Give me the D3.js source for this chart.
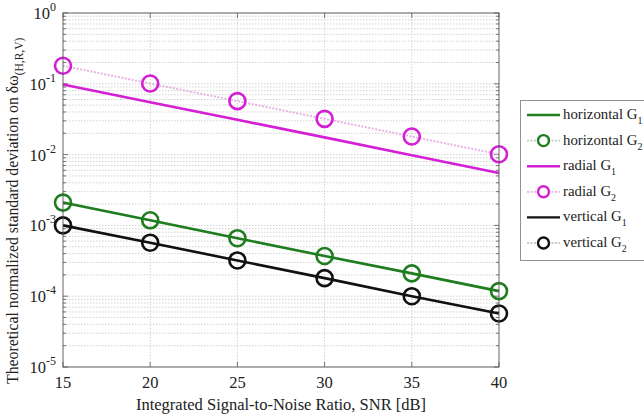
<!DOCTYPE html>
<html><head><meta charset="utf-8">
<script src="https://cdn.jsdelivr.net/npm/d3@7"></script>
<style>body{margin:0;background:#fff}svg{display:block;font-family:"Liberation Serif","Times New Roman",serif}</style>
</head><body><svg id="c" width="644" height="418"></svg>
<script>
const snr = [15, 20, 25, 30, 35, 40];
const horizontalG1 = [0.0021, 0.00118, 0.00066, 0.00037, 0.00021, 0.000118];
const horizontalG2 = [0.0021, 0.00118, 0.00066, 0.00037, 0.00021, 0.000118];
const radialG1 = [0.098, 0.055, 0.031, 0.0175, 0.0098, 0.0055];
const radialG2 = [0.18, 0.101, 0.057, 0.032, 0.018, 0.0101];
const verticalG1 = [0.001, 0.00057, 0.00032, 0.00018, 0.0001, 0.000057];
const verticalG2 = [0.001, 0.00057, 0.00032, 0.00018, 0.0001, 0.000057];
const xTicks = [15, 20, 25, 30, 35, 40];
const yExponents = [0, -1, -2, -3, -4, -5];

const series = [
  {name: "horizontal G", sub: "1", values: horizontalG1, color: "#1e7d1e", kind: "G1"},
  {name: "horizontal G", sub: "2", values: horizontalG2, color: "#1e7d1e", kind: "G2", lineColor: "#c8c8c8"},
  {name: "radial G", sub: "1", values: radialG1, color: "#d41fd4", kind: "G1"},
  {name: "radial G", sub: "2", values: radialG2, color: "#d41fd4", kind: "G2", lineColor: "#e6b3e6"},
  {name: "vertical G", sub: "1", values: verticalG1, color: "#111111", kind: "G1"},
  {name: "vertical G", sub: "2", values: verticalG2, color: "#111111", kind: "G2", lineColor: "#c8c8c8"}
];

const svg = d3.select("#c");
const L = 63, R = 499, T = 13, B = 367;
const x = d3.scaleLinear().domain([15, 40]).range([L, R]);
const y = d3.scaleLog().domain([1e-5, 1]).range([B, T]);

// grid
const g = svg.append("g");
const minor = [];
for (let e = -5; e < 0; e++) for (let m = 1; m <= 9; m++) minor.push(m * Math.pow(10, e));
minor.push(1);
g.selectAll(".hg").data(minor).join("line")
  .attr("x1", L).attr("x2", R).attr("y1", d => y(d)).attr("y2", d => y(d))
  .attr("stroke", "#c8c8c8").attr("stroke-width", 0.8).attr("stroke-dasharray", "1.5,1.5");
g.selectAll(".vg").data(xTicks.slice(1, -1)).join("line")
  .attr("x1", d => x(d)).attr("x2", d => x(d)).attr("y1", T).attr("y2", B)
  .attr("stroke", "#c8c8c8").attr("stroke-width", 0.8).attr("stroke-dasharray", "1.5,1.5");

// ticks (inside)
const tk = svg.append("g").attr("stroke", "#555").attr("stroke-width", 0.8);
minor.forEach(v => {
  const major = Math.abs(Math.log10(v) - Math.round(Math.log10(v))) < 1e-9;
  const len = major ? 5 : 3;
  tk.append("line").attr("x1", L).attr("x2", L + len).attr("y1", y(v)).attr("y2", y(v));
  tk.append("line").attr("x1", R).attr("x2", R - len).attr("y1", y(v)).attr("y2", y(v));
});
xTicks.forEach(v => {
  tk.append("line").attr("x1", x(v)).attr("x2", x(v)).attr("y1", B).attr("y2", B - 5);
  tk.append("line").attr("x1", x(v)).attr("x2", x(v)).attr("y1", T).attr("y2", T + 5);
});

// series
const line = d3.line().x((d, i) => x(snr[i])).y(d => y(d));
series.filter(s => s.kind === "G2").forEach(s => {
  svg.append("path").attr("d", line(s.values)).attr("fill", "none")
    .attr("stroke", s.lineColor).attr("stroke-width", 2).attr("stroke-dasharray", "2,1.5");
});
series.filter(s => s.kind === "G1").forEach(s => {
  svg.append("path").attr("d", line(s.values)).attr("fill", "none")
    .attr("stroke", s.color).attr("stroke-width", 2.6);
});
series.filter(s => s.kind === "G2").forEach(s => {
  svg.append("g").selectAll("circle").data(s.values).join("circle")
    .attr("cx", (d, i) => x(snr[i])).attr("cy", d => y(d)).attr("r", 8)
    .attr("fill", "none").attr("stroke", s.color).attr("stroke-width", 2.6);
});

// frame
svg.append("rect").attr("x", L).attr("y", T).attr("width", R - L).attr("height", B - T)
  .attr("fill", "none").attr("stroke", "#555").attr("stroke-width", 0.9);

// axis labels
const fs = 16.5;
xTicks.forEach(v => {
  svg.append("text").attr("x", x(v)).attr("y", 388).attr("text-anchor", "middle")
    .attr("font-size", fs).attr("fill", "#222").text(v);
});
yExponents.forEach(e => {
  const t = svg.append("text").attr("x", 56).attr("y", y(Math.pow(10, e)) + 6)
    .attr("text-anchor", "end").attr("font-size", fs).attr("fill", "#222");
  t.append("tspan").text("10");
  t.append("tspan").attr("dy", -8).attr("font-size", 12).text(e);
});

svg.append("text").attr("x", x(27.5)).attr("y", 410).attr("text-anchor", "middle")
  .attr("font-size", fs).attr("fill", "#222").text("Integrated Signal-to-Noise Ratio, SNR [dB]");

const yt = svg.append("text").attr("transform", "translate(18,384) rotate(-90)")
  .attr("text-anchor", "start").attr("font-size", 15.8).attr("fill", "#222");
yt.append("tspan").text("Theoretical normalized standard deviation on δω");
yt.append("tspan").attr("dy", 5).attr("font-size", 11.5).text("(H,R,V)");

// legend
const lg = svg.append("g");
lg.append("rect").attr("x", 520.5).attr("y", 100.5).attr("width", 140).attr("height", 160)
  .attr("fill", "#fff").attr("stroke", "#888").attr("stroke-width", 0.9);
series.forEach((s, i) => {
  const cy = 115 + i * 25.6;
  if (s.kind === "G1") {
    lg.append("line").attr("x1", 527).attr("x2", 560).attr("y1", cy).attr("y2", cy)
      .attr("stroke", s.color).attr("stroke-width", 2.4);
  } else {
    lg.append("line").attr("x1", 527).attr("x2", 560).attr("y1", cy).attr("y2", cy)
      .attr("stroke", s.lineColor).attr("stroke-width", 1.8).attr("stroke-dasharray", "2,1.5");
    lg.append("circle").attr("cx", 543.5).attr("cy", cy).attr("r", 5.5)
      .attr("fill", "#fff").attr("stroke", s.color).attr("stroke-width", 2.4);
  }
  const t = lg.append("text").attr("x", 563).attr("y", cy + 4).attr("font-size", 14.8).attr("fill", "#222");
  t.append("tspan").text(s.name);
  t.append("tspan").attr("dy", 5).attr("font-size", 10).text(s.sub);
});
</script></body></html>
